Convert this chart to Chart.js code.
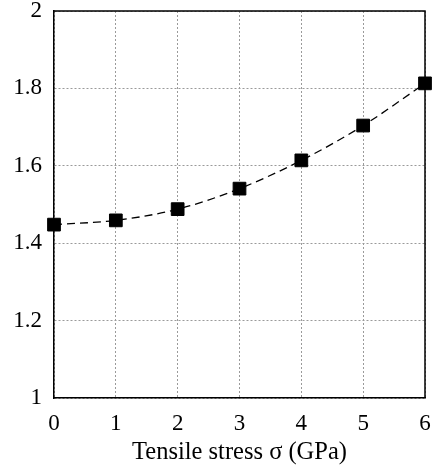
<!DOCTYPE html>
<html>
<head>
<meta charset="utf-8">
<script src="https://cdn.jsdelivr.net/npm/chart.js@4"></script>
<style>
  html, body { margin: 0; padding: 0; background: #fff; }
  #wrap { width: 436px; height: 472px; }
</style>
</head>
<body>
<div id="wrap"><canvas id="stressChart"></canvas></div>
<script>
// values
const stress = [0, 1, 2, 3, 4, 5, 6];
const index = [1.448, 1.459, 1.488, 1.541, 1.614, 1.704, 1.813];
const yTicks = [1, 1.2, 1.4, 1.6, 1.8, 2];
const xTitle = 'Tensile stress σ (GPa)';

const FONT = "'Liberation Serif', 'DejaVu Serif', serif";

// closes the box on top and right
const frameBox = {
    id: 'frameBox',
    afterDatasetsDraw(chart) {
        const { ctx, chartArea: a } = chart;
        ctx.save();
        ctx.strokeStyle = '#000';
        ctx.lineWidth = 1.5;
        ctx.beginPath();
        ctx.moveTo(a.left, a.top);
        ctx.lineTo(a.right, a.top);
        ctx.lineTo(a.right, a.bottom);
        ctx.stroke();
        ctx.restore();
    }
};

function initializeChart() {
    const ctx = document.getElementById('stressChart').getContext('2d');
    const points = stress.map((x, i) => ({ x: x, y: index[i] }));

    new Chart(ctx, {
        type: 'line',
        data: {
            datasets: [{
                data: points,
                clip: false,
                borderColor: '#000',
                borderWidth: 1.3,
                borderDash: [8, 5],
                cubicInterpolationMode: 'monotone',
                fill: false,
                pointStyle: 'rect',
                pointRadius: 9,
                pointBorderWidth: 1,
                pointBackgroundColor: '#000',
                pointBorderColor: '#000'
            }]
        },
        options: {
            responsive: true,
            maintainAspectRatio: false,
            animation: false,
            layout: { padding: { top: 11, right: 11, left: 0, bottom: 0 } },
            plugins: {
                legend: { display: false },
                tooltip: { enabled: false }
            },
            scales: {
                x: {
                    type: 'linear',
                    min: 0,
                    max: 6,
                    afterFit: s => {
                        s.height = 74;
                        s.paddingLeft = 0;
                        s.paddingRight = 0;
                    },
                    ticks: {
                        stepSize: 1,
                        color: '#000',
                        padding: 12,
                        font: { family: FONT, size: 23 }
                    },
                    grid: { color: '#9a9a9a', drawTicks: false, lineWidth: 1 },
                    border: { color: '#000', width: 1.5, dash: [2, 2] },
                    title: {
                        display: true,
                        text: xTitle,
                        color: '#000',
                        padding: { top: 2, bottom: 5 },
                        font: { family: FONT, size: 24.5 }
                    }
                },
                y: {
                    min: 1,
                    max: 2,
                    afterFit: s => {
                        s.width = 54;
                        s.paddingTop = 0;
                        s.paddingBottom = 0;
                    },
                    afterBuildTicks: s => { s.ticks = yTicks.map(v => ({ value: v })); },
                    ticks: {
                        color: '#000',
                        padding: 12,
                        font: { family: FONT, size: 23 },
                        callback: v => String(Math.round(v * 10) / 10)
                    },
                    grid: { color: '#9a9a9a', drawTicks: false, lineWidth: 1 },
                    border: { color: '#000', width: 1.5, dash: [2, 2] }
                }
            }
        },
        plugins: [frameBox]
    });
}

document.addEventListener('DOMContentLoaded', () => {
    initializeChart();
});
</script>
</body>
</html>
